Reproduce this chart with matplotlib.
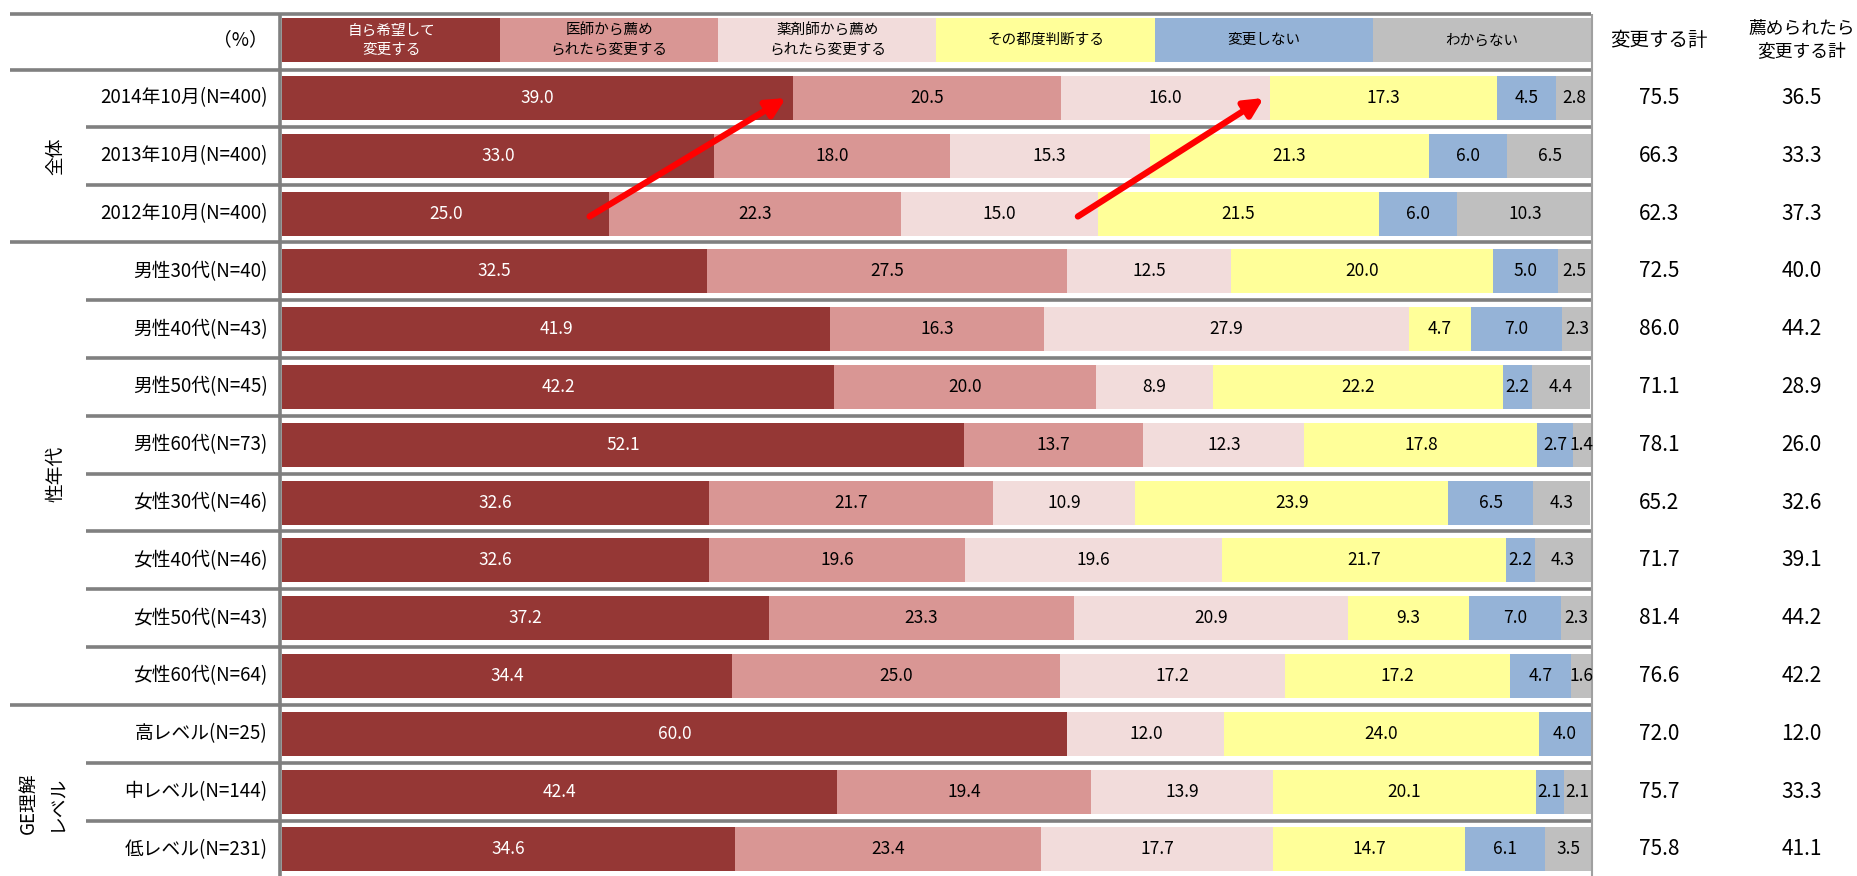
import numpy as np
import matplotlib
matplotlib.use('Agg')
import matplotlib.pyplot as plt

plt.rcParams['font.family'] = ['Noto Sans CJK JP', 'DejaVu Sans']

rows = ['2014年10月(N=400)', '2013年10月(N=400)', '2012年10月(N=400)',
        '男性30代(N=40)', '男性40代(N=43)', '男性50代(N=45)', '男性60代(N=73)',
        '女性30代(N=46)', '女性40代(N=46)', '女性50代(N=43)', '女性60代(N=64)',
        '高レベル(N=25)', '中レベル(N=144)', '低レベル(N=231)']

series = ['自ら希望して\n変更する', '医師から薦め\nられたら変更する', '薬剤師から薦め\nられたら変更する',
          'その都度判断する', '変更しない', 'わからない']
colors = ['#953735', '#D99694', '#F2DCDB', '#FFFF99', '#95B3D7', '#BFBFBF']
text_colors = ['white', 'black', 'black', 'black', 'black', 'black']

jibun   = [39.0, 33.0, 25.0, 32.5, 41.9, 42.2, 52.1, 32.6, 32.6, 37.2, 34.4, 60.0, 42.4, 34.6]
ishi    = [20.5, 18.0, 22.3, 27.5, 16.3, 20.0, 13.7, 21.7, 19.6, 23.3, 25.0, 0.0, 19.4, 23.4]
yakuzai = [16.0, 15.3, 15.0, 12.5, 27.9, 8.9, 12.3, 10.9, 19.6, 20.9, 17.2, 12.0, 13.9, 17.7]
tsudo   = [17.3, 21.3, 21.5, 20.0, 4.7, 22.2, 17.8, 23.9, 21.7, 9.3, 17.2, 24.0, 20.1, 14.7]
shinai  = [4.5, 6.0, 6.0, 5.0, 7.0, 2.2, 2.7, 6.5, 2.2, 7.0, 4.7, 4.0, 2.1, 6.1]
wakaranai = [2.8, 6.5, 10.3, 2.5, 2.3, 4.4, 1.4, 4.3, 4.3, 2.3, 1.6, 0.0, 2.1, 3.5]

henko_kei = [75.5, 66.3, 62.3, 72.5, 86.0, 71.1, 78.1, 65.2, 71.7, 81.4, 76.6, 72.0, 75.7, 75.8]
susume_kei = [36.5, 33.3, 37.3, 40.0, 44.2, 28.9, 26.0, 32.6, 39.1, 44.2, 42.2, 12.0, 33.3, 41.1]

groups = [('全体', 0, 2), ('性年代', 3, 10), ('GE理解\nレベル', 11, 13)]

data = np.array([jibun, ishi, yakuzai, tsudo, shinai, wakaranai])

W, H = 1858, 876
fig = plt.figure(figsize=(W / 100, H / 100), dpi=100)
ax = fig.add_axes([282 / W, 0, 1309 / W, 1])
ax.set_xlim(0, 100)
ax.set_ylim(13.46, -1.695)
ax.axis('off')

y = np.arange(len(rows))
bh = 0.76
line_c = '#808080'

# header "legend" row
hw = 100 / len(series)
for i, (s, c, tc) in enumerate(zip(series, colors, text_colors)):
    ax.barh(-1, hw, left=i * hw, height=bh, color=c, edgecolor='none')
    ax.text(i * hw + hw / 2, -1, s, ha='center', va='center', fontsize=10.5,
            color=tc, linespacing=1.5)

left = np.zeros(len(rows))
for k in range(len(series)):
    vals = data[k]
    ax.barh(y, vals, left=left, height=bh, color=colors[k], edgecolor='none')
    for r in range(len(rows)):
        if vals[r] > 0:
            ax.text(left[r] + vals[r] / 2, r, f'{vals[r]:.1f}', ha='center', va='center',
                    fontsize=12.5, color=text_colors[k])
    left += vals

# row labels
lx = -1.1
ax.text(lx, -1, '（%）', ha='right', va='center', fontsize=13.5)
for r, lab in enumerate(rows):
    ax.text(lx, r, lab, ha='right', va='center', fontsize=13.5)

# right-hand totals
cx1, cx2 = 105.2, 116.1
ax.text(cx1, -1, '変更する計', ha='center', va='center', fontsize=14)
ax.text(cx2, -1, '薦められたら\n変更する計', ha='center', va='center', fontsize=12.8, linespacing=1.25)
for r in range(len(rows)):
    ax.text(cx1, r, f'{henko_kei[r]:.1f}', ha='center', va='center', fontsize=15)
    ax.text(cx2, r, f'{susume_kei[r]:.1f}', ha='center', va='center', fontsize=15)

# group labels
for name, a, b in groups:
    gx = -18.3 if '\n' in name else -17.3
    yc = (a + b) / 2 + (0.2 if '\n' in name else 0)
    ax.text(gx, yc, name, rotation=90, ha='center', va='center', fontsize=13.5,
            multialignment='center', linespacing=1.4)

# separators
group_breaks = [g[2] + 0.5 for g in groups[:-1]]
for r in range(len(rows) - 1):
    yy = r + 0.5
    x0 = -20.8 if yy in group_breaks else -15.0
    ax.hlines(yy, x0, 100, color=line_c, lw=2.6, clip_on=False)
ax.hlines([-1.45, -0.48], -20.8, 100, color=line_c, lw=2.6, clip_on=False)
ax.vlines(-0.15, -1.45, 13.46, color=line_c, lw=2.6, clip_on=False)
ax.vlines(100.1, -1.45, 13.46, color='#A0A0A0', lw=1.5, clip_on=False)

# trend arrows 2012 -> 2014
cum = np.cumsum(data, axis=0)
for k in [0, 2]:
    ax.annotate('', xy=(cum[k][0] - 0.5, 0.0), xytext=(cum[k][2] - 1.5, 2.05),
                arrowprops=dict(arrowstyle='-|>', color='#FF0000', lw=4.5, mutation_scale=28,
                                shrinkA=0, shrinkB=0))

fig.savefig('out.png', dpi=100)
